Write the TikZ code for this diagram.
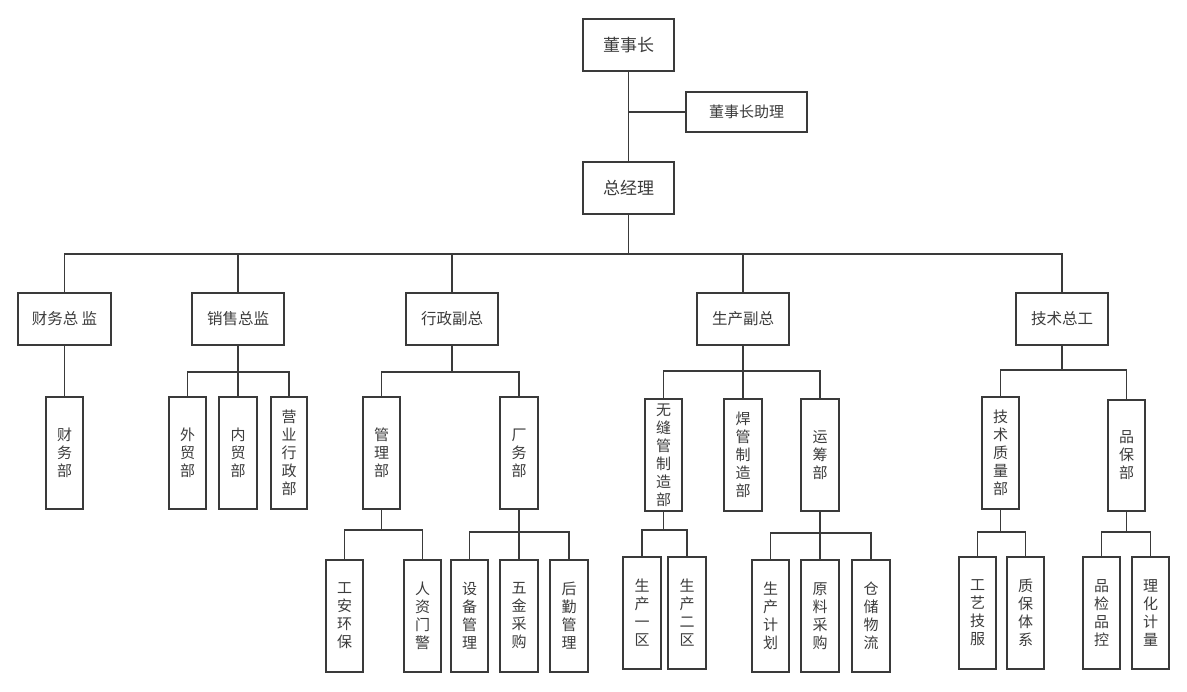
\documentclass[tikz,border=0pt]{standalone}
\usepackage{fontspec}
\setmainfont{Noto Sans CJK SC}
\definecolor{linec}{HTML}{3A3A3A}
\definecolor{textc}{HTML}{3C3C3C}
\tikzset{
  box/.style={draw=linec, line width=1.3pt, text=textc, inner sep=0pt, align=center, fill=white},
  big/.style={font=\fontsize{17}{20}\selectfont},
  mid/.style={font=\fontsize{15.5}{19}\selectfont},
  ast/.style={font=\fontsize{15}{18}\selectfont},
  sml/.style={font=\fontsize{15}{18}\selectfont},
  edge/.style={draw=linec, line width=1.3pt}
}
\newcommand\bx[7]{\node[box,#6,minimum width={#4-#2},minimum height={#5-#3}] (#1) at ({(#2+#4)/2},{(#3+#5)/2}) {#7};}
\newcommand\tr[3]{\draw[edge] (#1.south) -- (#1.south |- 0,#3) -| (#2.north);}
\begin{document}
\begin{tikzpicture}[x=1pt,y=-1pt]
\useasboundingbox (0,0) rectangle (1187,692);
% level 0
\bx{ceo}{583}{19}{674}{71}{big}{董事长}
\bx{asst}{686}{92}{807}{132}{ast}{董事长助理}
\bx{gm}{583}{162}{674}{214}{big}{总经理}
% level 1
\bx{cw}{18}{293}{111}{345}{mid}{财务总 监}
\bx{xs}{192}{293}{284}{345}{mid}{销售总监}
\bx{xz}{406}{293}{498}{345}{mid}{行政副总}
\bx{sc}{697}{293}{789}{345}{mid}{生产副总}
\bx{js}{1016}{293}{1108}{345}{mid}{技术总工}
% level 2
\bx{cwb}{46}{397}{83}{509}{sml}{财\\务\\部}
\bx{wm}{169}{397}{206}{509}{sml}{外\\贸\\部}
\bx{nm}{219}{397}{257}{509}{sml}{内\\贸\\部}
\bx{yy}{271}{397}{307}{509}{sml}{营\\业\\行\\政\\部}
\bx{gl}{363}{397}{400}{509}{sml}{管\\理\\部}
\bx{cwu}{500}{397}{538}{509}{sml}{厂\\务\\部}
\bx{wf}{645}{399}{682}{511}{sml}{无\\缝\\管\\制\\造\\部}
\bx{hg}{724}{399}{762}{511}{sml}{焊\\管\\制\\造\\部}
\bx{yc}{801}{399}{839}{511}{sml}{运\\筹\\部}
\bx{jz}{982}{397}{1019}{509}{sml}{技\\术\\质\\量\\部}
\bx{pb}{1108}{400}{1145}{511}{sml}{品\\保\\部}
% level 3
\bx{ga}{326}{560}{363}{672}{sml}{工\\安\\环\\保}
\bx{rz}{404}{560}{441}{672}{sml}{人\\资\\门\\警}
\bx{sb}{451}{560}{488}{672}{sml}{设\\备\\管\\理}
\bx{wj}{500}{560}{538}{672}{sml}{五\\金\\采\\购}
\bx{hq}{550}{560}{588}{672}{sml}{后\\勤\\管\\理}
\bx{s1}{623}{557}{661}{669}{sml}{生\\产\\一\\区}
\bx{s2}{668}{557}{706}{669}{sml}{生\\产\\二\\区}
\bx{jh}{752}{560}{789}{672}{sml}{生\\产\\计\\划}
\bx{yl}{801}{560}{839}{672}{sml}{原\\料\\采\\购}
\bx{cc}{852}{560}{890}{672}{sml}{仓\\储\\物\\流}
\bx{gy}{959}{557}{996}{669}{sml}{工\\艺\\技\\服}
\bx{zb}{1007}{557}{1044}{669}{sml}{质\\保\\体\\系}
\bx{pj}{1083}{557}{1120}{669}{sml}{品\\检\\品\\控}
\bx{lh}{1132}{557}{1169}{669}{sml}{理\\化\\计\\量}
% connectors
\draw[edge] (ceo.south) -- (gm.north);
\draw[edge] (ceo.south |- asst.west) -- (asst.west);
\tr{gm}{cw}{254}
\tr{gm}{xs}{254}
\tr{gm}{xz}{254}
\tr{gm}{sc}{254}
\tr{gm}{js}{254}
\draw[edge] (cw.south) -- (cw.south |- cwb.north);
\tr{xs}{wm}{372}
\tr{xs}{nm}{372}
\tr{xs}{yy}{372}
\tr{xz}{gl}{372}
\tr{xz}{cwu}{372}
\tr{sc}{wf}{371}
\tr{sc}{hg}{371}
\tr{sc}{yc}{371}
\tr{js}{jz}{370}
\tr{js}{pb}{370}
\tr{gl}{ga}{530}
\tr{gl}{rz}{530}
\tr{cwu}{sb}{532}
\tr{cwu}{wj}{532}
\tr{cwu}{hq}{532}
\tr{wf}{s1}{530}
\tr{wf}{s2}{530}
\tr{yc}{jh}{533}
\tr{yc}{yl}{533}
\tr{yc}{cc}{533}
\tr{jz}{gy}{532}
\tr{jz}{zb}{532}
\tr{pb}{pj}{532}
\tr{pb}{lh}{532}
\end{tikzpicture}
\end{document}
